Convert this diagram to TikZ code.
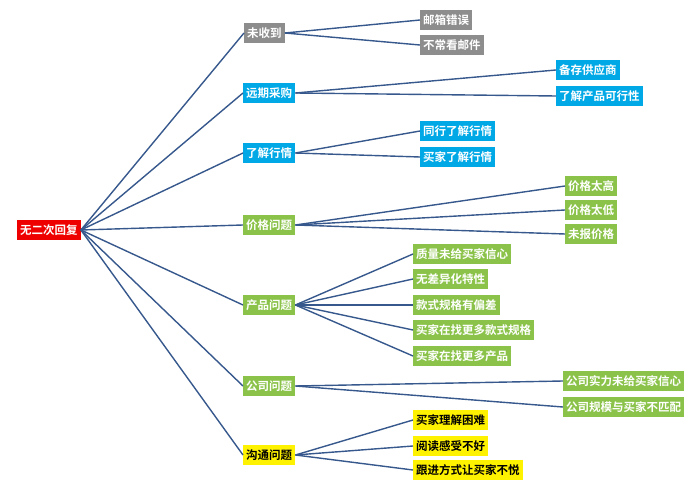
\documentclass[tikz,border=0pt]{standalone}
\usepackage{fontspec}
\newfontfamily\cjk{Noto Sans CJK SC}[BoldFont={Noto Sans CJK SC Bold}]
\begin{document}
\begin{tikzpicture}[x=1pt,y=-1pt,
  box/.style={anchor=west,inner xsep=3pt,inner ysep=0pt,minimum height=19.5pt,text=white,font=\cjk\bfseries\fontsize{11.5}{12}\selectfont},
  gray/.style={box,fill=gray!95!black!85},
  blue/.style={box,fill={rgb,255:red,0;green,168;blue,230}},
  green/.style={box,fill={rgb,255:red,139;green,195;blue,74}},
  yel/.style={box,fill=yellow,text=black},
  red/.style={box,fill={rgb,255:red,238;green,0;blue,0}},
  ln/.style={draw={rgb,255:red,54;green,88;blue,140},line width=1.4pt}]
\useasboundingbox (0,0) rectangle (697,500);
\node[red] (r) at (17,230) {无二次回复};
\node[gray] (a) at (244,33) {未收到};
\node[blue] (b) at (243,93) {远期采购};
\node[blue] (c) at (243,153) {了解行情};
\node[green] (d) at (243,225) {价格问题};
\node[green] (e) at (243,305) {产品问题};
\node[green] (f) at (243,386) {公司问题};
\node[yel] (g) at (243,455) {沟通问题};
\node[gray] (a1) at (420,20) {邮箱错误};
\node[gray] (a2) at (420,45) {不常看邮件};
\node[blue] (b1) at (556,70) {备存供应商};
\node[blue] (b2) at (556,96) {了解产品可行性};
\node[blue] (c1) at (420,131) {同行了解行情};
\node[blue] (c2) at (420,157) {买家了解行情};
\node[green] (d1) at (565,186) {价格太高};
\node[green] (d2) at (565,210) {价格太低};
\node[green] (d3) at (565,234) {未报价格};
\node[green] (e1) at (413,254) {质量未给买家信心};
\node[green] (e2) at (413,279) {无差异化特性};
\node[green] (e3) at (413,305) {款式规格有偏差};
\node[green] (e4) at (413,330) {买家在找更多款式规格};
\node[green] (e5) at (413,356) {买家在找更多产品};
\node[green] (f1) at (563,381) {公司实力未给买家信心};
\node[green] (f2) at (563,407) {公司规模与买家不匹配};
\node[yel] (g1) at (413,420) {买家理解困难};
\node[yel] (g2) at (413,446) {阅读感受不好};
\node[yel] (g3) at (413,470) {跟进方式让买家不悦};
\foreach \n in {a,b,c,d,e,f,g} \draw[ln] (r.east) -- (\n.west);
\foreach \p/\q in {a/a1,a/a2,b/b1,b/b2,c/c1,c/c2,d/d1,d/d2,d/d3,e/e1,e/e2,e/e3,e/e4,e/e5,f/f1,f/f2,g/g1,g/g2,g/g3}
  \draw[ln] (\p.east) -- (\q.west);
\end{tikzpicture}
\end{document}
